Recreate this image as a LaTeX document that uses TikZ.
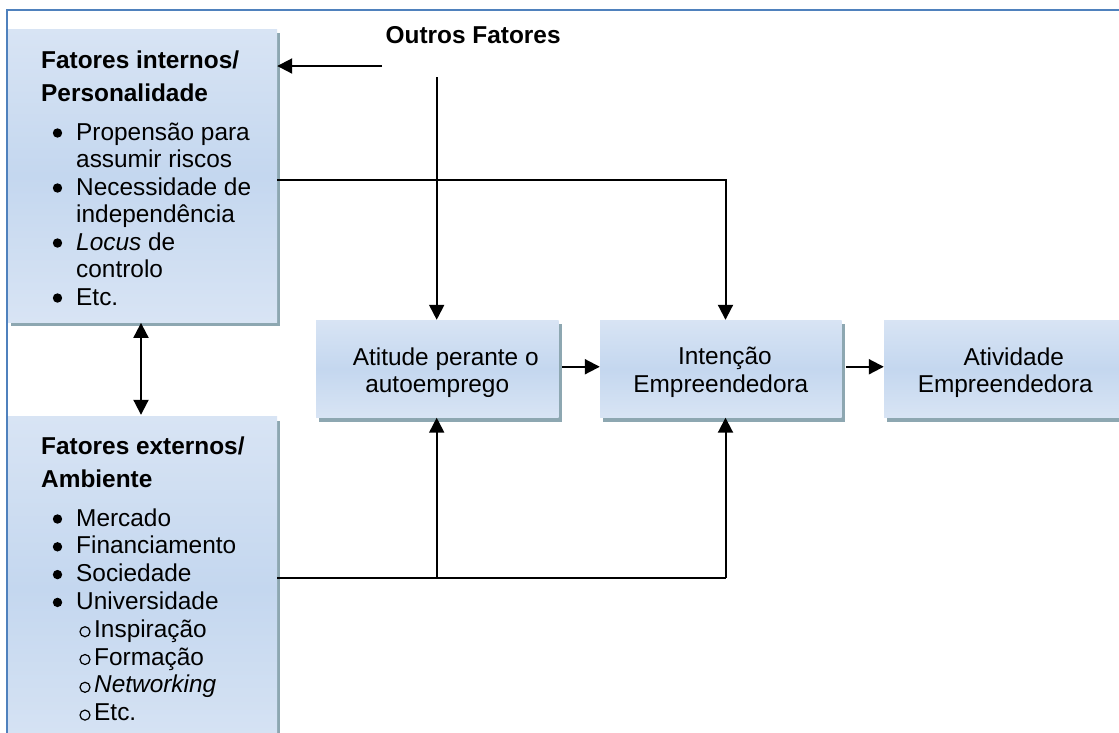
\documentclass[tikz,border=0pt]{standalone}
\usepackage{fontspec}
\setmainfont{Liberation Sans}
\usetikzlibrary{arrows.meta,shadows,calc}

\definecolor{boxtop}{HTML}{D8E4F4}
\definecolor{boxmid}{HTML}{C4D7EF}
\definecolor{shcol}{HTML}{8DA7B1}
\definecolor{framecol}{HTML}{4F81BD}

\newcommand\fs{\fontsize{24.4pt}{27.5pt}\selectfont}

\tikzset{
  box/.style={rectangle, draw=none, inner sep=0pt,
    top color=boxtop, bottom color=boxtop, middle color=boxmid,
    drop shadow={shadow xshift=3pt, shadow yshift=-4pt, fill=shcol, opacity=1}},
  hd/.style={anchor=base west, inner sep=0pt, font=\fs\bfseries},
  li/.style={anchor=base west, inner sep=0pt, font=\fs},
  ctxt/.style={align=center, inner sep=0pt, font=\fs},
  dot/.style={fill=black},
  ring/.style={draw=black, line width=1.2pt},
  conn/.style={line width=2pt, black},
  arr/.style={conn, -{Triangle[length=15pt,width=15pt]}},
  darr/.style={conn, {Triangle[length=15pt,width=15pt]}-{Triangle[length=15pt,width=15pt]}}
}

\begin{document}
\begin{tikzpicture}[x=1pt,y=-1pt]
\useasboundingbox (0,0) rectangle (1119,732);
\clip (0,0) rectangle (1119,732);
\fill[white] (0,0) rectangle (1119,732);

% frame
\draw[framecol, line width=1.8pt] (7,760) -- (7,10) -- (1130,10);

% boxes
\node[box, minimum width=269pt, minimum height=293pt] (tl) at (142.5,175.5) {};
\node[box, minimum width=269pt, minimum height=344pt] (bl) at (142.5,588.5) {};
\node[box, minimum width=242.5pt, minimum height=97.5pt] (att) at (437.25,368.75) {};
\node[box, minimum width=241.7pt, minimum height=97.5pt] (int) at (720.85,368.75) {};
\node[box, minimum width=242.5pt, minimum height=97.5pt] (atv) at (1005.25,368.75) {};

% middle texts
\node[ctxt] (attT) at (437.25,372.5) {\hspace*{17pt}Atitude perante o\\autoemprego};
\node[ctxt] (intT) at (720.85,372.5) {\hspace*{8pt}Intenção\\Empreendedora};
\node[ctxt] (atvT) at (1005.25,372.5) {\hspace*{17pt}Atividade\\Empreendedora};

% top-left box text
\node[hd] (tlh1) at (41,68) {Fatores internos/};
\node[hd] (tlh2) at (41,101.7) {Personalidade};
\node[li] (tl1) at (76,140) {Propensão para};
\node[li] (tl2) at (76,167.5) {assumir riscos};
\node[li] (tl3) at (76,195) {Necessidade de};
\node[li] (tl4) at (76,222.5) {independência};
\node[li] (tl5) at (76,250) {\textit{Locus} de};
\node[li] (tl6) at (76,277.5) {controlo};
\node[li] (tl7) at (76,305) {Etc.};
\foreach \b in {140,195,250,305} \fill[dot] (57.5,\b-7) circle (4.7pt);

% bottom-left box text
\node[hd] (blh1) at (41,454) {Fatores externos/};
\node[hd] (blh2) at (41,487.3) {Ambiente};
\node[li] (bl1) at (76,526) {Mercado};
\node[li] (bl2) at (76,553.8) {Financiamento};
\node[li] (bl3) at (76,581.6) {Sociedade};
\node[li] (bl4) at (76,609.4) {Universidade};
\node[li] (bl5) at (94,637.2) {Inspiração};
\node[li] (bl6) at (94,665) {Formação};
\node[li] (bl7) at (94,692.8) {\textit{Networking}};
\node[li] (bl8) at (94,720.6) {Etc.};
\foreach \b in {526,553.8,581.6,609.4} \fill[dot] (57.5,\b-7) circle (4.7pt);
\foreach \b in {637.2,665,692.8,720.6} \draw[ring] (85,\b-5.5) circle (5pt);

% Outros Fatores
\node[hd] (of) at (385.5,43.3) {Outros Fatores};

% connectors
\coordinate (ofh) at (382,66);
\coordinate (ofv) at (436.7,77);
\coordinate (j0) at (725.5,180);
\coordinate (j1) at (436.7,578);
\coordinate (j2) at (725.5,578);

\draw[arr] (ofh) -- (ofh -| tl.east);
\draw[arr] (ofv) -- (ofv |- att.north);
\draw[arr] (tl.east |- j0) -- (j0) -- (j0 |- int.north);
\draw[conn] (bl.east |- j1) -- (j2);
\draw[arr] (j1) -- (j1 |- att.south);
\draw[arr] (j2) -- (j2 |- int.south);
\draw[darr] ($(tl.south)+(-1.5,0.7)$) -- ($(bl.north)+(-1.5,-1.5)$);
\draw[arr] ($(att.east)+(3.5,-2)$) -- ($(int.west)+(0,-2)$);
\draw[arr] ($(int.east)+(4,-2)$) -- ($(atv.west)+(0,-2)$);
\end{tikzpicture}
\end{document}
